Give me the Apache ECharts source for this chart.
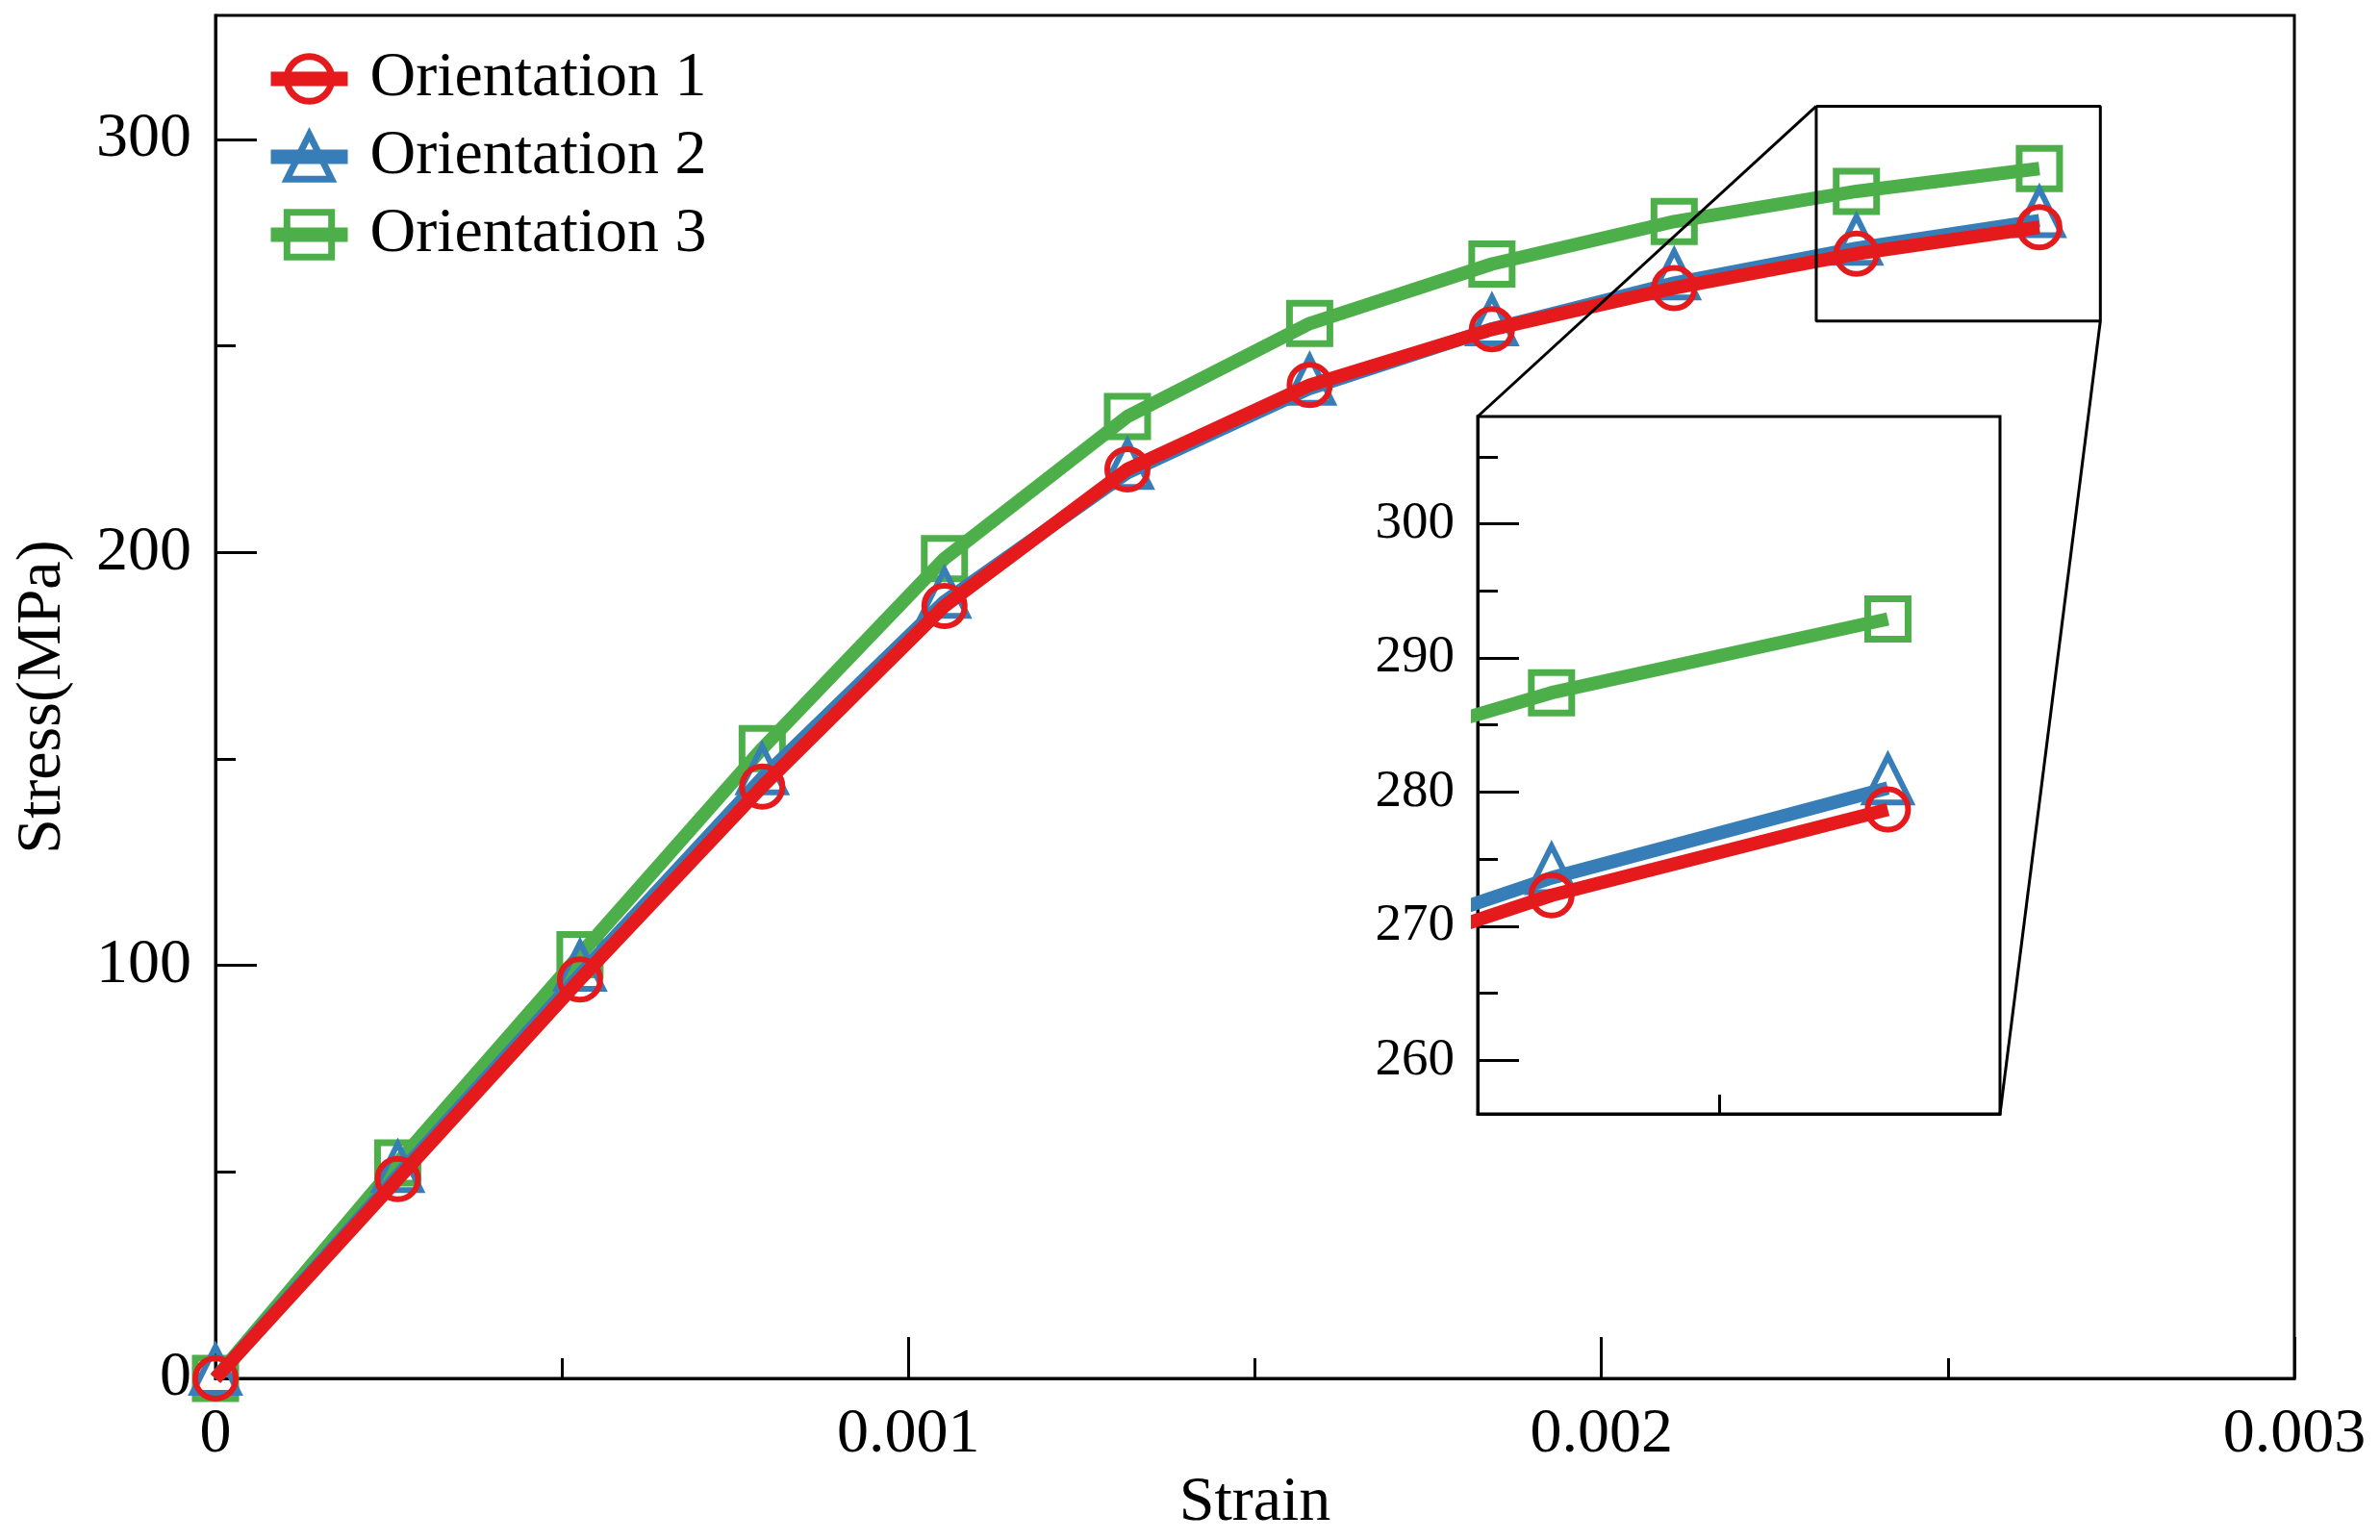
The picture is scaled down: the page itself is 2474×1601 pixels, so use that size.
<!DOCTYPE html>
<html><head><meta charset="utf-8">
<script src="https://cdn.jsdelivr.net/npm/echarts@6/dist/echarts.min.js"></script>
<style>html,body{margin:0;padding:0;background:#fff}#c{width:2474px;height:1601px}</style>
</head><body><div id="c"></div><script>
const strain = [0, 0.000263, 0.000526, 0.000789, 0.001052, 0.001316, 0.001579, 0.001842, 0.002105, 0.002368, 0.002632];
const orientation1 = [0, 48.3, 96.6, 143.3, 187.0, 220.1, 240.5, 254.0, 264.0, 272.3, 278.7];
const orientation2 = [0, 49.1, 97.8, 145.4, 188.1, 219.3, 239.7, 254.1, 265.2, 273.6, 280.3];
const orientation3 = [0, 52.2, 102.6, 152.5, 198.5, 232.9, 255.4, 269.8, 280.1, 287.4, 292.9];
const seriesNames = ['Orientation 1', 'Orientation 2', 'Orientation 3'];
const xMajorTicks = [0, 0.001, 0.002, 0.003];
const xMinorTicks = [0.0005, 0.0015, 0.0025];
const yMajorTicks = [0, 100, 200, 300];
const yMinorTicks = [50, 150, 250];
const insetXRange = [0.00231, 0.00272];
const insetYRange = [256, 308];
const insetYMajorTicks = [260, 270, 280, 290, 300];
const insetYMinorTicks = [265, 275, 285, 295, 305];
const insetXMinorTicks = [0.0025];

const FONT = 'Liberation Serif';
const RED = '#E41A1C', BLUE = '#377EB8', GREEN = '#4DAF4A';
const LW = 14;
const chart = echarts.init(document.getElementById('c'), null, {renderer: 'canvas'});

function pairs(vals) { return strain.map((x, i) => [x, vals[i]]); }
function mk(name, vals, color, symbol, size, bw, z, ai, offset) {
  return {
    type: 'line', name: name, data: pairs(vals), xAxisIndex: ai, yAxisIndex: ai,
    symbol: symbol, symbolSize: size, symbolOffset: offset || [0, 0], showAllSymbol: true,
    lineStyle: {color: color, width: LW}, itemStyle: {color: 'rgba(255,255,255,0)', borderColor: color, borderWidth: bw},
    z: z, emphasis: {disabled: true}, silent: true, animation: false, clip: true
  };
}
const series = [];
[0, 2].forEach(ai => {
  series.push(mk(seriesNames[2], orientation3, GREEN, 'rect', 42, 7, 2, ai));
  series.push(mk(seriesNames[1], orientation2, BLUE, 'triangle', 48, 6, 3, ai, [0, -9]));
  series.push(mk(seriesNames[0], orientation1, RED, 'circle', 42, 6, 4, ai));
});
series.push({
  type: 'line', name: 'zoombox', xAxisIndex: 0, yAxisIndex: 0, symbol: 'none', silent: true, animation: false,
  data: [[insetXRange[0], insetYRange[1]], [insetXRange[1], insetYRange[1]], [insetXRange[1], insetYRange[0]], [insetXRange[0], insetYRange[0]], [insetXRange[0], insetYRange[1]]],
  lineStyle: {color: '#000', width: 3}, z: 10
});

const axisLine = {show: true, lineStyle: {color: '#000', width: 3}};
const lbl = (size) => ({color: '#000', fontFamily: FONT, fontSize: size});
const xfmt = v => (v === 0 ? '0' : v.toFixed(3));

chart.setOption({
  backgroundColor: '#fff',
  animation: false,
  grid: [
    {left: 224, top: 16, width: 2161, height: 1421, show: true, borderColor: '#000', borderWidth: 3, containLabel: false},
    {left: 1536, top: 433, width: 543, height: 725, show: true, borderColor: '#000', borderWidth: 3, backgroundColor: '#fff', containLabel: false}
  ],
  legend: {
    data: seriesNames, orient: 'vertical', left: 269, top: 44, itemWidth: 80, itemHeight: 58, itemGap: 15,
    lineStyle: {width: 15}, itemStyle: {borderWidth: 7},
    textStyle: {color: '#000', fontFamily: FONT, fontSize: 66, padding: [0, 0, 0, 18]}, selectedMode: false
  },
  xAxis: [
    {gridIndex: 0, type: 'value', min: 0, max: 0.003, position: 'bottom', axisLine: axisLine,
     axisTick: {show: true, inside: true, length: 43, lineStyle: {color: '#000', width: 3}, customValues: xMajorTicks},
     axisLabel: {show: true, margin: 26, ...lbl(66), formatter: xfmt, customValues: xMajorTicks},
     splitLine: {show: false}, name: 'Strain', nameLocation: 'middle', nameGap: 83,
     nameTextStyle: {color: '#000', fontFamily: FONT, fontSize: 66}},
    {gridIndex: 0, type: 'value', min: 0, max: 0.003, position: 'bottom', axisLine: {show: false},
     axisTick: {show: true, inside: true, length: 21, lineStyle: {color: '#000', width: 3}, customValues: xMinorTicks},
     axisLabel: {show: false}, splitLine: {show: false}},
    {gridIndex: 1, type: 'value', min: insetXRange[0], max: insetXRange[1], position: 'bottom', axisLine: axisLine,
     axisTick: {show: true, inside: true, length: 20, lineStyle: {color: '#000', width: 3}, customValues: insetXMinorTicks},
     axisLabel: {show: false}, splitLine: {show: false}}
  ],
  yAxis: [
    {gridIndex: 0, type: 'value', min: 0, max: 330, position: 'left', axisLine: axisLine,
     axisTick: {show: true, inside: true, length: 43, lineStyle: {color: '#000', width: 3}, customValues: yMajorTicks},
     axisLabel: {show: true, margin: 25, ...lbl(66), customValues: yMajorTicks},
     splitLine: {show: false}, name: 'Stress(MPa)', nameLocation: 'middle', nameGap: 146,
     nameTextStyle: {color: '#000', fontFamily: FONT, fontSize: 66}},
    {gridIndex: 0, type: 'value', min: 0, max: 330, position: 'left', axisLine: {show: false},
     axisTick: {show: true, inside: true, length: 21, lineStyle: {color: '#000', width: 3}, customValues: yMinorTicks},
     axisLabel: {show: false}, splitLine: {show: false}},
    {gridIndex: 1, type: 'value', min: insetYRange[0], max: insetYRange[1], position: 'left', axisLine: axisLine,
     axisTick: {show: true, inside: true, length: 43, lineStyle: {color: '#000', width: 3}, customValues: insetYMajorTicks},
     axisLabel: {show: true, margin: 24, ...lbl(55), customValues: insetYMajorTicks},
     splitLine: {show: false}},
    {gridIndex: 1, type: 'value', min: insetYRange[0], max: insetYRange[1], position: 'left', axisLine: {show: false},
     axisTick: {show: true, inside: true, length: 21, lineStyle: {color: '#000', width: 3}, customValues: insetYMinorTicks},
     axisLabel: {show: false}, splitLine: {show: false}}
  ],
  series: series
});

const p1 = chart.convertToPixel({xAxisIndex: 0, yAxisIndex: 0}, [insetXRange[0], insetYRange[1]]);
const q1 = chart.convertToPixel({xAxisIndex: 2, yAxisIndex: 2}, [insetXRange[0], insetYRange[1]]);
const p2 = chart.convertToPixel({xAxisIndex: 0, yAxisIndex: 0}, [insetXRange[1], insetYRange[0]]);
const q2 = chart.convertToPixel({xAxisIndex: 2, yAxisIndex: 2}, [insetXRange[1], insetYRange[0]]);
chart.setOption({
  graphic: [
    {type: 'line', shape: {x1: p1[0], y1: p1[1], x2: q1[0], y2: q1[1]}, style: {stroke: '#000', lineWidth: 3}, z: 100, silent: true},
    {type: 'line', shape: {x1: p2[0], y1: p2[1], x2: q2[0], y2: q2[1]}, style: {stroke: '#000', lineWidth: 3}, z: 100, silent: true}
  ]
});
</script></body></html>
